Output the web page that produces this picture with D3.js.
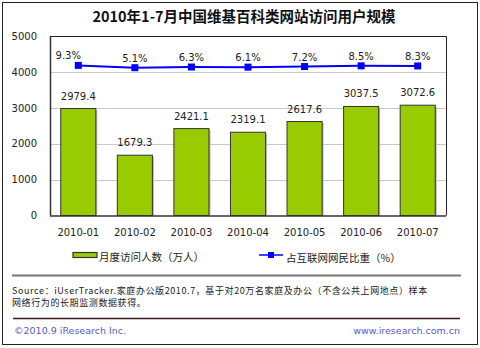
<!DOCTYPE html>
<html><head><meta charset="utf-8">
<script src="https://cdn.jsdelivr.net/npm/d3@7"></script>
<style>body{margin:0;background:#fff}svg{display:block}</style>
</head><body>
<script>
const categories = ["2010-01","2010-02","2010-03","2010-04","2010-05","2010-06","2010-07"];
const visitors = [2979.4,1679.3,2421.1,2319.1,2617.6,3037.5,3072.6];
const shares = [9.3,5.1,6.3,6.1,7.2,8.5,8.3];
const yTicks = [0,1000,2000,3000,4000,5000];
const title = "2010年1-7月中国维基百科类网站访问用户规模";
const legendBar = "月度访问人数（万人）";
const legendLine = "占互联网网民比重（%）";
const sourceLines = ["Source：iUserTracker.家庭办公版2010.7，基于对20万名家庭及办公（不含公共上网地点）样本","网络行为的长期监测数据获得。"];
const footerLeft = "©2010.9 iResearch Inc.";
const footerRight = "www.iresearch.com.cn";

const W=480,H=348;
const font = "'DejaVu Sans', Verdana, sans-serif";
const cjk = "'Noto Sans CJK SC', sans-serif";
const svg = d3.select("body").append("svg").attr("width",W).attr("height",H);

svg.append("rect").attr("x",2.5).attr("y",2.5).attr("width",475).attr("height",342)
  .attr("fill","#fff").attr("stroke","#222").attr("stroke-width",1);

svg.append("text").attr("x",244).attr("y",22).attr("text-anchor","middle")
  .attr("font-family",cjk).attr("font-weight","bold").attr("font-size",14.5).attr("fill","#111").text(title);

const L=50,R=446,T=36,B=215.5;
const x = d3.scaleBand().domain(categories).range([L,R]).paddingInner(0.38).paddingOuter(0.19);
const y = d3.scaleLinear().domain([0,5000]).range([B,T]);
const y2 = d3.scaleLinear().domain([0,10]).range([70.5,65]);

svg.append("g").selectAll("line").data(yTicks.filter(d=>d>0&&d<5000)).join("line")
  .attr("x1",L).attr("x2",R).attr("y1",d=>Math.round(y(d))+0.5).attr("y2",d=>Math.round(y(d))+0.5)
  .attr("stroke","#c8c8c8").attr("stroke-width",1);
svg.append("path").attr("d",`M${L},${T+0.5}H${R+0.5}V${B}`).attr("fill","none").attr("stroke","#222").attr("stroke-width",1);

const yAxis = d3.axisLeft(y).tickValues(yTicks).tickSize(0).tickPadding(13).tickFormat(d3.format("d"));
const ga = svg.append("g").attr("transform",`translate(${L},0)`).call(yAxis);
ga.select(".domain").remove();
ga.selectAll("text").attr("font-family",font).attr("font-size",10).attr("fill","#222");

svg.append("g").selectAll("rect").data(visitors).join("rect")
  .attr("x",(d,i)=>x(categories[i])+1.5).attr("y",d=>y(d)+1.5)
  .attr("width",x.bandwidth()).attr("height",d=>B-y(d)-1.5).attr("fill","#bbb");
svg.append("g").selectAll("rect").data(visitors).join("rect")
  .attr("x",(d,i)=>x(categories[i])).attr("y",d=>y(d))
  .attr("width",x.bandwidth()).attr("height",d=>B-y(d)).attr("fill","#99CC00")
  .attr("stroke","#333").attr("stroke-width",1);

svg.append("g").selectAll("text").data(visitors).join("text")
  .attr("x",(d,i)=>x(categories[i])+x.bandwidth()/2).attr("y",d=>y(d)-9)
  .attr("text-anchor","middle").attr("font-family",font).attr("font-size",10).attr("fill","#222")
  .text(d=>d3.format(".1f")(d));

svg.append("line").attr("x1",L).attr("x2",R).attr("y1",B+0.5).attr("y2",B+0.5).attr("stroke","#333").attr("stroke-width",1.5);
svg.append("line").attr("x1",L+0.5).attr("x2",L+0.5).attr("y1",T).attr("y2",B).attr("stroke","#333").attr("stroke-width",1.5);
const xAxis = d3.axisBottom(x).tickSize(0).tickPadding(13);
const gx = svg.append("g").attr("transform",`translate(0,${B})`).call(xAxis);
gx.select(".domain").remove();
gx.selectAll("text").attr("font-family",font).attr("font-size",10).attr("fill","#222");

const cx = (d,i)=>x(categories[i])+x.bandwidth()/2;
svg.append("path").datum(shares).attr("fill","none").attr("stroke","#0000FF").attr("stroke-width",2)
  .attr("d",d3.line().x(cx).y(d=>y2(d)));
svg.append("g").selectAll("rect").data(shares).join("rect")
  .attr("x",(d,i)=>cx(d,i)-3.5).attr("y",d=>y2(d)-3.5).attr("width",7).attr("height",7).attr("fill","#0000FF");
svg.append("g").selectAll("text").data(shares).join("text")
  .attr("x",(d,i)=>cx(d,i)-(i===0?10:0)).attr("y",d=>y2(d)-6)
  .attr("text-anchor","middle").attr("font-family",font).attr("font-size",10).attr("fill","#222")
  .text(d=>d.toFixed(1)+"%");

svg.append("rect").attr("x",73).attr("y",252.5).attr("width",24).attr("height",5).attr("fill","#99CC00").attr("stroke","#333").attr("stroke-width",1.2);
svg.append("text").attr("x",99).attr("y",261).attr("font-family",cjk).attr("font-size",10.5).attr("fill","#222").text(legendBar);
svg.append("line").attr("x1",259).attr("x2",283).attr("y1",255).attr("y2",255).attr("stroke","#0000FF").attr("stroke-width",1.5);
svg.append("rect").attr("x",268).attr("y",252).attr("width",6).attr("height",6).attr("fill","#0000FF");
svg.append("text").attr("x",286).attr("y",262).attr("font-family",cjk).attr("font-size",10.5).attr("fill","#222").text(legendLine);

svg.append("line").attr("x1",12).attr("x2",461).attr("y1",275.5).attr("y2",275.5).attr("stroke","#777").attr("stroke-width",2);
svg.append("g").selectAll("text").data(sourceLines).join("text")
  .attr("x",12).attr("y",(d,i)=>294+i*11.5).attr("font-family",cjk).attr("font-size",9).attr("letter-spacing",0.6).attr("fill","#222").text(d=>d);
svg.append("line").attr("x1",13).attr("x2",460).attr("y1",318.5).attr("y2",318.5).attr("stroke","#3a1a1a").attr("stroke-width",1.5);
svg.append("text").attr("x",14).attr("y",334).attr("font-family",font).attr("font-size",9.5).attr("fill","#5a5acc").text(footerLeft);
svg.append("text").attr("x",460).attr("y",334).attr("text-anchor","end").attr("font-family",font).attr("font-size",9.5).attr("fill","#5a5acc").text(footerRight);
</script>
</body></html>
